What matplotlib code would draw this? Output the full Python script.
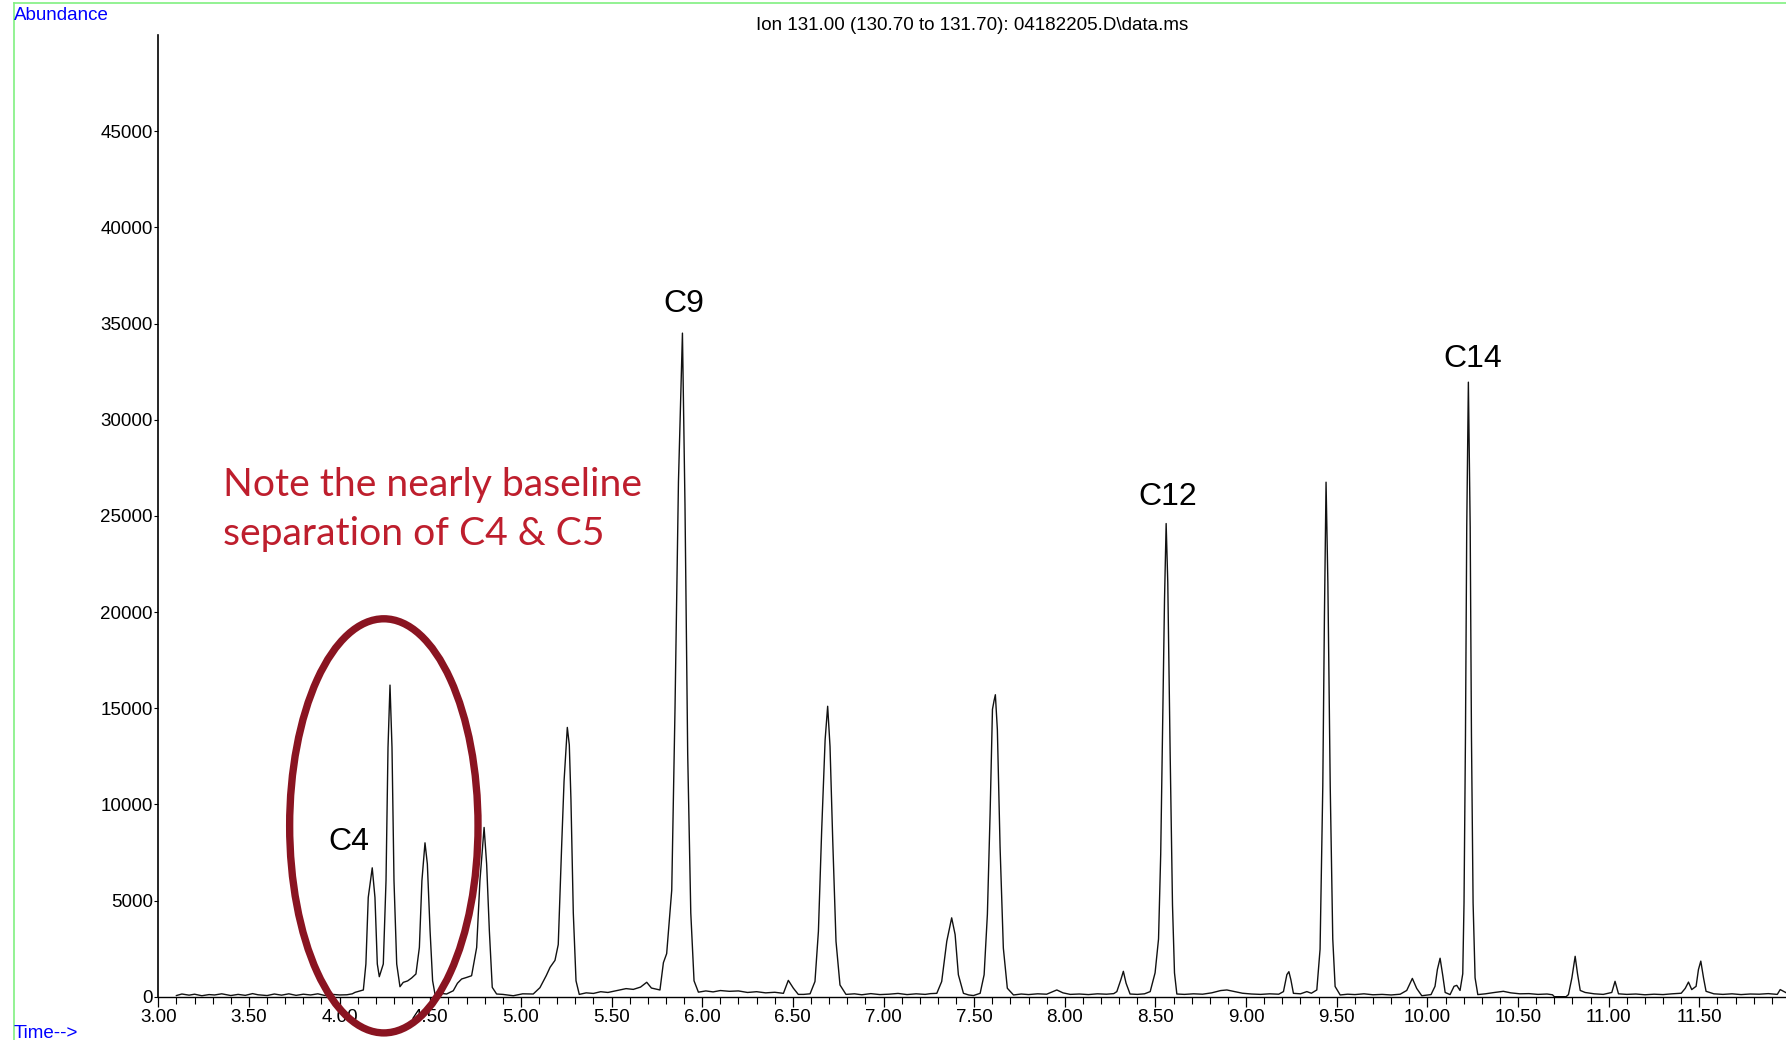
import matplotlib
matplotlib.use('Agg')
import matplotlib.pyplot as plt
from matplotlib.patches import Ellipse
from matplotlib.lines import Line2D
from matplotlib.ticker import MultipleLocator, FormatStrFormatter

plt.rcParams['font.family'] = ['Liberation Sans', 'DejaVu Sans']

# retention time (min) and abundance
rt_min = [
    3.10, 3.13, 3.17, 3.20, 3.24, 3.28, 3.31, 3.35, 3.40, 3.44, 3.48, 3.52, 3.55,
    3.60, 3.64, 3.68, 3.72, 3.76, 3.80, 3.84, 3.88, 3.92, 3.96, 4.00, 4.04, 4.07,
    4.085, 4.131, 4.145, 4.158, 4.180, 4.195, 4.208, 4.219, 4.241, 4.256, 4.267,
    4.278, 4.289, 4.300, 4.315, 4.333, 4.351, 4.375, 4.397, 4.421, 4.440, 4.454,
    4.471, 4.484, 4.499, 4.513, 4.526, 4.555, 4.590, 4.627, 4.650, 4.673, 4.700,
    4.728, 4.756, 4.774, 4.797, 4.811, 4.826, 4.842, 4.866, 4.900, 4.958, 5.010,
    5.068, 5.105, 5.140, 5.161, 5.188, 5.206, 5.225, 5.238, 5.256, 5.267, 5.276,
    5.289, 5.304, 5.322, 5.36, 5.40, 5.44, 5.48, 5.52, 5.547, 5.58, 5.62, 5.66,
    5.694, 5.72, 5.767, 5.786, 5.804, 5.832, 5.850, 5.869, 5.891, 5.905, 5.920,
    5.937, 5.955, 5.979, 6.02, 6.06, 6.10, 6.15, 6.20, 6.25, 6.30, 6.35, 6.40,
    6.448, 6.475, 6.503, 6.530, 6.56, 6.595, 6.622, 6.641, 6.659, 6.678, 6.692,
    6.705, 6.720, 6.738, 6.760, 6.793, 6.84, 6.88, 6.93, 6.98, 7.03, 7.08, 7.13,
    7.18, 7.23, 7.26, 7.294, 7.321, 7.349, 7.376, 7.395, 7.413, 7.441, 7.47,
    7.496, 7.533, 7.555, 7.573, 7.588, 7.601, 7.610, 7.617, 7.628, 7.643, 7.661,
    7.683, 7.717, 7.76, 7.80, 7.85, 7.90, 7.956, 7.99, 8.03, 8.08, 8.13, 8.18,
    8.23, 8.27, 8.287, 8.309, 8.323, 8.338, 8.360, 8.40, 8.44, 8.471, 8.498,
    8.517, 8.529, 8.540, 8.550, 8.559, 8.568, 8.581, 8.594, 8.605, 8.618, 8.66,
    8.71, 8.76, 8.81, 8.86, 8.894, 8.93, 8.98, 9.03, 9.08, 9.13, 9.18, 9.206,
    9.225, 9.236, 9.247, 9.261, 9.30, 9.335, 9.36, 9.390, 9.408, 9.423, 9.432,
    9.441, 9.451, 9.464, 9.478, 9.491, 9.519, 9.56, 9.60, 9.65, 9.70, 9.75,
    9.80, 9.85, 9.886, 9.917, 9.941, 9.969, 10.00, 10.02, 10.042, 10.055, 10.070,
    10.085, 10.098, 10.125, 10.147, 10.162, 10.180, 10.195, 10.202, 10.210,
    10.217, 10.226, 10.236, 10.243, 10.252, 10.263, 10.278, 10.32, 10.37,
    10.419, 10.46, 10.51, 10.56, 10.61, 10.66, 10.690, 10.700, 10.765, 10.778,
    10.797, 10.815, 10.828, 10.843, 10.870, 10.92, 10.97, 11.017, 11.035,
    11.054, 11.10, 11.15, 11.20, 11.25, 11.30, 11.35, 11.40, 11.422, 11.440,
    11.458, 11.482, 11.495, 11.508, 11.523, 11.537, 11.58, 11.63, 11.68, 11.73,
    11.78, 11.83, 11.88, 11.93, 11.946, 11.98,
]
abundance = [
    60, 140, 80, 130, 50, 110, 90, 150, 60, 120, 70, 160, 100,
    60, 140, 80, 150, 70, 130, 90, 150, 60, 120, 90, 100, 150,
    225, 350, 1700, 5160, 6700, 5160, 1700, 1040, 1700, 6030, 12960,
    16200, 12960, 6030, 1700, 520, 745, 820, 970, 1180, 2560, 6030,
    8000, 6900, 3430, 830, 140, 180, 140, 310, 700, 920, 1000,
    1090, 2560, 6030, 8800, 6900, 3430, 485, 140, 120, 50, 150,
    140, 470, 1100, 1530, 1890, 2710, 7900, 11200, 14000, 13090, 10260,
    4360, 825, 120, 200, 170, 260, 220, 300, 350, 420, 380, 500,
    750, 450, 350, 1770, 2240, 5540, 14970, 26760, 34500, 25590, 12620,
    4360, 825, 236, 300, 250, 320, 280, 300, 220, 260, 200, 230,
    175, 850, 440, 120, 120, 150, 790, 3400, 8650, 13360, 15100,
    13010, 8120, 2880, 610, 120, 150, 100, 160, 110, 130, 170, 110,
    150, 120, 160, 175, 790, 2880, 4100, 3230, 1140, 175, 90,
    60, 175, 1140, 4280, 9520, 14940, 15400, 15700, 13890, 7770, 2530,
    440, 90, 140, 110, 150, 130, 350, 200, 120, 140, 110, 150,
    130, 160, 265, 880, 1320, 700, 140, 120, 150, 265, 1240,
    3000, 7410, 14470, 20650, 24600, 21530, 12710, 4770, 1240, 140, 120,
    150, 130, 200, 320, 350, 280, 180, 140, 120, 150, 130, 265,
    1150, 1300, 880, 175, 150, 265, 180, 350, 2470, 10940, 19770,
    26750, 21530, 10940, 3000, 530, 90, 130, 110, 150, 100, 120,
    90, 130, 325, 950, 430, 50, 90, 110, 540, 1410, 2000,
    1085, 220, 110, 540, 590, 325, 1190, 4880, 13560,
    24410, 31950, 24410, 13560, 4880, 980, 110, 150, 220,
    280, 200, 150, 160, 120, 140, 100, 0, 0, 110,
    980, 2100, 1190, 325, 220, 150, 120, 220, 800,
    150, 120, 140, 100, 130, 110, 150, 180, 430, 760,
    370, 540, 1410, 1850, 980, 280, 150, 120, 150, 110,
    140, 130, 160, 120, 370, 200,
]

peak_names = ['C4', 'C9', 'C12', 'C14']
name_rt = [4.05, 5.896, 8.566, 10.25]
name_abund = [8050, 36000, 25990, 33150]

y_ticks = list(range(0, 50000, 5000))
title = 'Ion 131.00 (130.70 to 131.70): 04182205.D\\data.ms'
note_lines = ['Note the nearly baseline', 'separation of C4 & C5']

W, H = 1786, 1040
fig = plt.figure(figsize=(W / 100, H / 100), dpi=100)
ax = fig.add_axes([158.3 / W, 1 - 996.7 / H, 1 - 158.3 / W, (996.7 - 35) / H])

ax.plot(rt_min, abundance, color='#111111', lw=1.0)
ax.set_xlim(3.0, 3 + (W - 158.3) / 181.3)
ax.set_ylim(0, 50000)

for s in ['top', 'right']:
    ax.spines[s].set_visible(False)
ax.spines['left'].set_linewidth(1.2)
ax.spines['bottom'].set_linewidth(1.0)

ax.xaxis.set_major_locator(MultipleLocator(0.5))
ax.xaxis.set_minor_locator(MultipleLocator(0.1))
ax.xaxis.set_major_formatter(FormatStrFormatter('%.2f'))
ax.tick_params(axis='x', which='major', length=7.2, width=0.9, pad=2, labelsize=13.5)
ax.tick_params(axis='x', which='minor', length=4.8, width=0.8)
ax.set_yticks(y_ticks)
ax.tick_params(axis='y', length=3, width=0.8, pad=1, labelsize=13.5)

for name, x, y in zip(peak_names, name_rt, name_abund):
    ax.text(x, y, name, ha='center', va='center', fontsize=23)

ax.add_patch(Ellipse((4.244, 8883), 1.039, 21530, fill=False,
                     edgecolor='#8A1421', lw=5.3, clip_on=False, zorder=5))

fig.text(222.6 / W, 1 - 496 / H, note_lines[0], family='Lato', fontsize=28.2,
         color='#BE1E2D', va='baseline', ha='left')
fig.text(222.6 / W, 1 - 545.5 / H, note_lines[1], family='Lato', fontsize=28.2,
         color='#BE1E2D', va='baseline', ha='left')

fig.text(972 / W, 1 - 26 / H, title, ha='center', va='center', fontsize=13.5)
fig.text(14 / W, 1 - 15 / H, 'Abundance', color='#0000FF', fontsize=13.5,
         ha='left', va='center')
fig.text(14 / W, 1 - 1033 / H, 'Time-->', color='#0000FF', fontsize=13.5,
         ha='left', va='center')

# green frame on the left and top edge
fig.add_artist(Line2D([14 / W, 14 / W], [0, 1 - 3 / H], color='#80F080', lw=1.2,
                      transform=fig.transFigure))
fig.add_artist(Line2D([14 / W, 1], [1 - 3 / H, 1 - 3 / H], color='#80F080', lw=1.2,
                      transform=fig.transFigure))

fig.savefig('out.png', dpi=100)
